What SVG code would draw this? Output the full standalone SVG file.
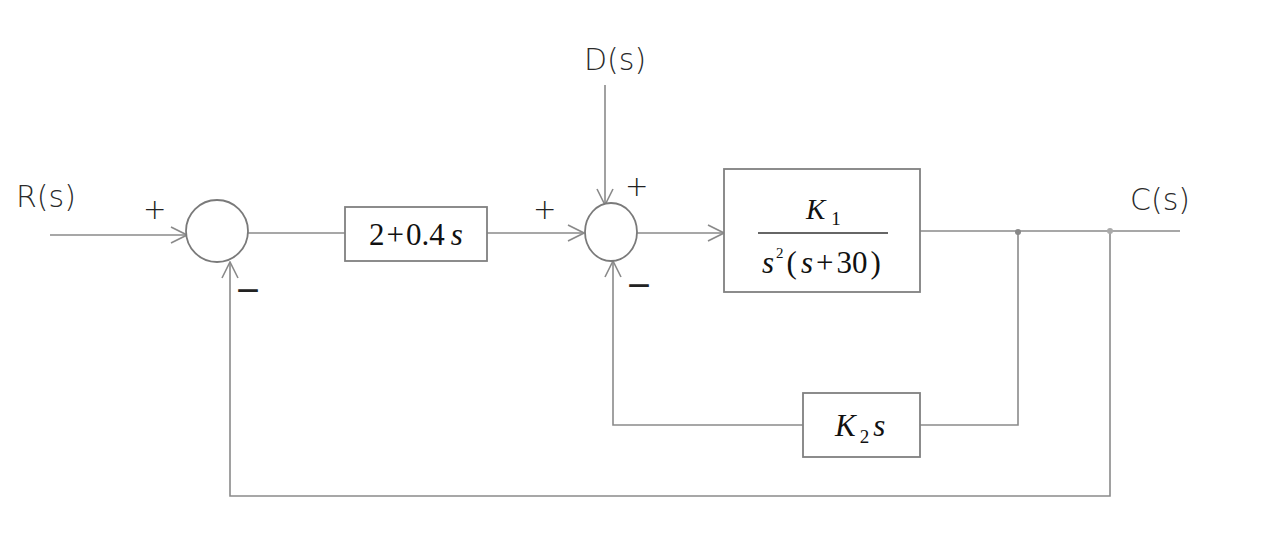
<svg xmlns="http://www.w3.org/2000/svg" width="1268" height="554" viewBox="0 0 1268 554">
<style>
.ln{fill:none;stroke:#8a8a8a;stroke-width:1.6}
.blk{fill:#fff;stroke:#808080;stroke-width:1.8}
.sum{fill:#fff;stroke:#7a7a7a;stroke-width:1.8}
.hand{font-family:"DejaVu Sans","Liberation Sans",sans-serif;font-weight:200;fill:#2a2a2a;font-size:30px}
.sign{font-family:"DejaVu Sans",sans-serif;font-weight:200;fill:#222;font-size:28px}
.minus{font-family:"DejaVu Sans",sans-serif;font-weight:bold;fill:#222;font-size:22px}
.math{font-family:"Liberation Serif",serif;fill:#111}
.it{font-style:italic}
</style>
<defs>
<marker id="arr" viewBox="0 0 20 20" refX="19" refY="10" markerWidth="20" markerHeight="20" markerUnits="userSpaceOnUse" orient="auto">
<path d="M3,2 L19,10 L3,18" fill="none" stroke="#8a8a8a" stroke-width="1.6"/>
</marker>
</defs>
<rect width="1268" height="554" fill="#fff"/>
<g id="connectors">
<line class="ln" x1="50" y1="235" x2="187" y2="235" marker-end="url(#arr)"/>
<line class="ln" x1="247" y1="233" x2="345" y2="233"/>
<line class="ln" x1="487" y1="233" x2="584" y2="233" marker-end="url(#arr)"/>
<line class="ln" x1="605" y1="85" x2="605" y2="205" marker-end="url(#arr)"/>
<line class="ln" x1="637" y1="233" x2="724" y2="233" marker-end="url(#arr)"/>
<line class="ln" x1="920" y1="231" x2="1180" y2="231"/>
<polyline class="ln" points="1018,231 1018,425 920,425"/>
<polyline class="ln" points="803,425 613,425 613,261" marker-end="url(#arr)"/>
<polyline class="ln" points="1110,231 1110,496 230,496 230,262" marker-end="url(#arr)"/>
<circle cx="1018" cy="232" r="3" fill="#888"/>
<circle cx="1110" cy="231" r="3" fill="#aaa"/>
</g>
<g id="R">
<text class="hand" x="16" y="207">R(s)</text>
</g>
<g id="sum1">
<ellipse class="sum" cx="217" cy="231" rx="31" ry="31"/>
<text class="sign" x="143" y="219">+</text>
<text class="minus" x="237" y="297">—</text>
</g>
<g id="G1">
<rect class="blk" x="345" y="207" width="142" height="54"/>
<text class="math" x="416" y="245" text-anchor="middle" font-size="31">2<tspan dx="2">+</tspan><tspan dx="2">0.4</tspan><tspan class="it" dx="6">s</tspan></text>
</g>
<g id="D">
<text class="hand" x="584" y="70">D(s)</text>
</g>
<g id="sum2">
<ellipse class="sum" cx="611" cy="232" rx="26" ry="29"/>
<text class="sign" x="533" y="219">+</text>
<text class="sign" x="625" y="196" font-weight="normal">+</text>
<text class="minus" x="628" y="292">—</text>
</g>
<g id="G2">
<rect class="blk" x="724" y="169" width="196" height="123"/>
<text class="math" x="806" y="219" font-size="29"><tspan class="it">K</tspan><tspan font-size="19" dx="6" dy="6">1</tspan></text>
<line x1="758" y1="233" x2="888" y2="233" stroke="#333" stroke-width="1.5"/>
<text class="math" x="762" y="273" font-size="31"><tspan class="it">s</tspan><tspan font-size="15" dy="-15" dx="2">2</tspan><tspan dy="15" dx="3">(</tspan><tspan class="it" dx="4">s</tspan><tspan dx="3">+</tspan><tspan dx="3">30</tspan><tspan dx="3">)</tspan></text>
</g>
<g id="H">
<rect class="blk" x="803" y="393" width="117" height="64"/>
<text class="math" x="835" y="436" font-size="31"><tspan class="it">K</tspan><tspan font-size="19" dx="4" dy="7">2</tspan><tspan class="it" dx="4" dy="-7">s</tspan></text>
</g>
<g id="C">
<text class="hand" x="1130" y="210">C(s)</text>
</g>
</svg>
